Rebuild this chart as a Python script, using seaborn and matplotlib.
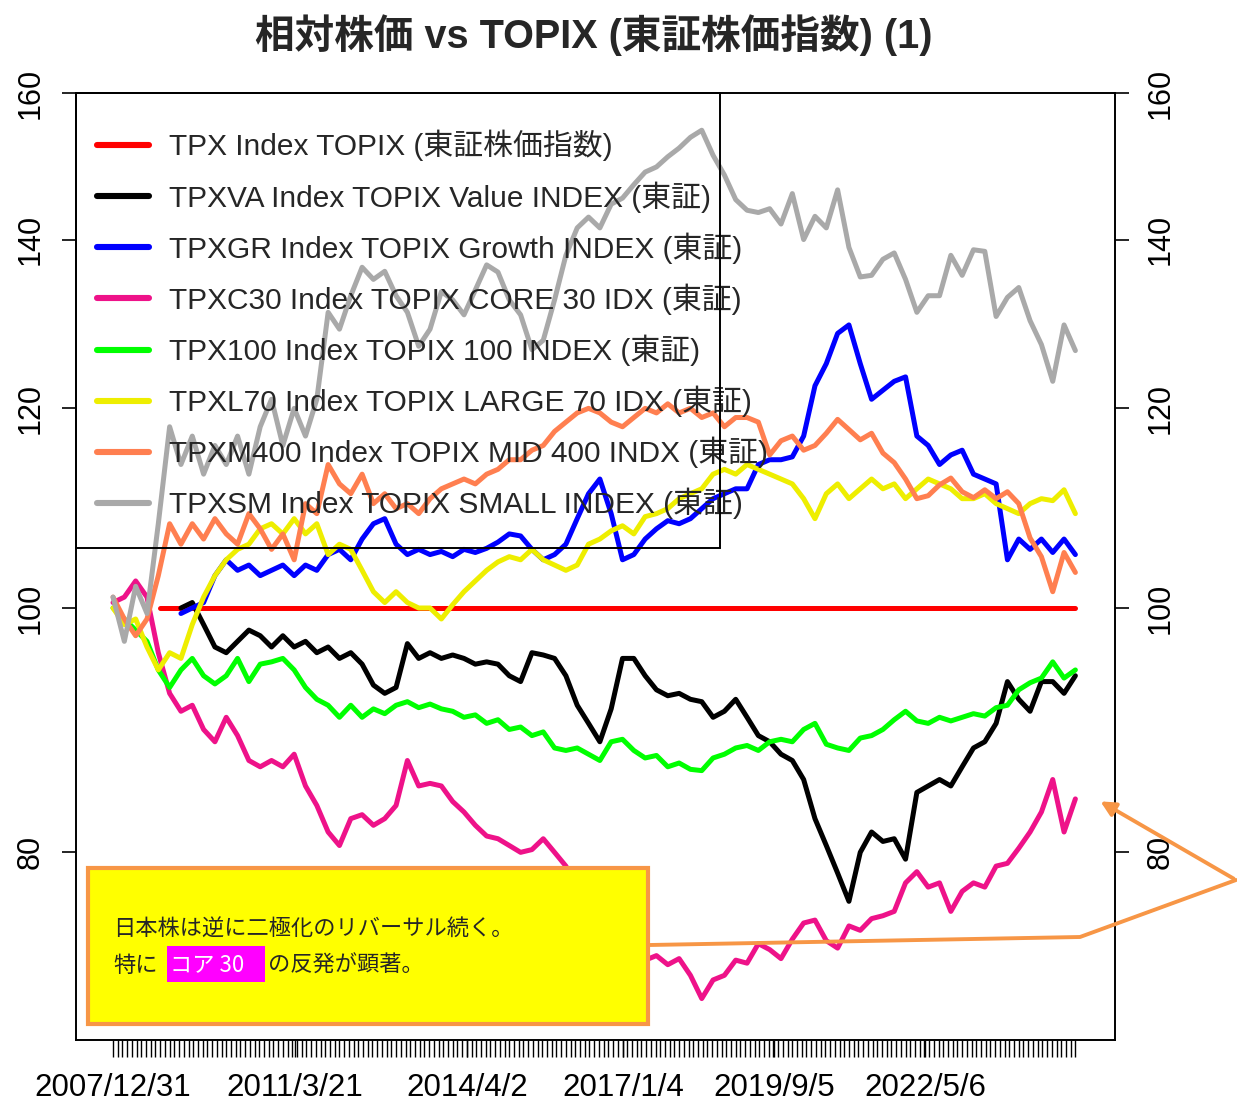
import numpy as np
import pandas as pd
import matplotlib
matplotlib.use('Agg')
import matplotlib.pyplot as plt
import seaborn as sns
from matplotlib.patches import Rectangle, FancyArrowPatch
from matplotlib.lines import Line2D
from matplotlib.ticker import FixedLocator, NullLocator

# ---------------- data (relative price vs TOPIX) ----------------
years = np.round(2008.0 + 0.2 * np.arange(86), 1)   # sampling dates (decimal years)

tpx_dates = [2008.83, 2025.0]
tpx = [100, 100]

tpxva = [100, 100.5, 98.5, 96.5, 96, 97, 98, 97.5, 96.5, 97.5,
         96.5, 97, 96, 96.5, 95.5, 96, 95, 93.2, 92.5, 93,
         96.8, 95.5, 96, 95.5, 95.8, 95.5, 95, 95.2, 95, 94,
         93.5, 96, 95.8, 95.5, 94, 91.5, 90, 88.5, 91.2, 95.5,
         95.5, 94, 92.8, 92.3, 92.5, 92, 91.8, 90.5, 91, 92,
         90.5, 89, 88.5, 87.5, 87, 85.5, 82.5, 80.5, 78.5, 76.5,
         80, 81.5, 80.8, 81, 79.5, 84.5, 85, 85.5, 85, 86.5,
         88, 88.5, 90, 93.5, 92, 91, 93.5, 93.5, 92.5, 94]

tpxgr = [99.5, 100, 100.5, 103, 104.5, 103.5, 104, 103, 103.5, 104,
         103, 104, 103.5, 105, 105.5, 104.5, 106.5, 108, 108.5, 106,
         105, 105.5, 105, 105.3, 104.8, 105.5, 105.2, 105.6, 106.2, 107,
         106.8, 105.5, 104.5, 105, 106, 108.5, 111, 112.5, 109, 104.5,
         105, 106.5, 107.5, 108.3, 108, 108.5, 109.5, 110.5, 111, 111.5,
         111.5, 114, 114.5, 114.5, 114.8, 117, 122.5, 125, 128.5, 129.5,
         125, 121, 122, 123, 123.5, 117, 116, 114, 115, 115.5,
         113, 112.5, 112, 104.5, 106.5, 105.5, 106.5, 105.2, 106.5, 105]

tpxc30 = [100.5, 101, 102.5, 101, 96, 92.5, 91, 91.5, 89.5, 88.5,
          90.5, 89, 87, 86.5, 87, 86.5, 87.5, 85, 83.5, 81.5,
          80.5, 82.5, 82.8, 82, 82.5, 83.5, 87, 85, 85.2, 85,
          83.8, 83, 82, 81.2, 81, 80.5, 80, 80.2, 81, 80,
          79, 77.5, 76.5, 75.5, 74.5, 73.8, 73, 72.5, 72.8, 72.2,
          72.6, 71.5, 70, 71.2, 71.5, 72.5, 72.3, 73.6, 73.2, 72.6,
          73.9, 75, 75.2, 73.8, 73.3, 74.8, 74.5, 75.3, 75.5, 75.8,
          77.8, 78.6, 77.5, 77.8, 75.8, 77.2, 77.8, 77.5, 79, 79.2,
          80.3, 81.5, 83, 85.5, 81.5, 84]

tpx100 = [100, 99, 98, 97, 94.5, 93, 94.5, 95.5, 94, 93.3,
          94, 95.5, 93.5, 95, 95.2, 95.5, 94.5, 93, 92, 91.5,
          90.5, 91.5, 90.5, 91.2, 90.8, 91.5, 91.8, 91.3, 91.6, 91.2,
          91, 90.5, 90.7, 90, 90.3, 89.5, 89.7, 89, 89.3, 88,
          87.8, 88, 87.5, 87, 88.5, 88.7, 87.8, 87.2, 87.4, 86.5,
          86.8, 86.3, 86.2, 87.2, 87.5, 88, 88.2, 87.8, 88.5, 88.7,
          88.5, 89.5, 90, 88.3, 88, 87.8, 88.8, 89, 89.5, 90.3,
          91, 90.2, 90, 90.5, 90.2, 90.5, 90.8, 90.6, 91.3, 91.5,
          92.8, 93.4, 93.8, 95.2, 93.8, 94.5]

tpxl70 = [100, 98.5, 99, 96.5, 94.5, 96, 95.5, 98.5, 101, 103,
          104.5, 105.5, 106, 107.5, 108, 107, 108.5, 107, 108, 105,
          106, 105.5, 103.5, 101.5, 100.5, 101.5, 100.5, 100, 100, 99,
          100.3, 101.5, 102.5, 103.5, 104.3, 104.8, 104.5, 105.5, 104.5, 104,
          103.5, 104, 106, 106.5, 107.3, 107.8, 107, 108.7, 109, 109.5,
          110.5, 111, 111.5, 113, 113.5, 113, 114, 113.5, 113, 112.5,
          112, 110.5, 108.5, 111, 112, 110.5, 111.5, 112.5, 111.5, 112,
          110.5, 111.5, 112.5, 112, 111.5, 110.5, 110.5, 111, 110, 109.5,
          109, 110, 110.5, 110.3, 111.4, 109]

tpxm400 = [101, 99, 97.5, 99, 103, 108, 106, 108, 106.5, 108.5,
           107, 106, 109, 107.5, 105.5, 107, 104.5, 110, 109, 114,
           112, 111, 113, 110, 111, 109.5, 110, 109, 110.5, 111.5,
           112, 112.5, 112, 113, 113.5, 114.5, 114.5, 115.5, 116, 117.5,
           118.5, 119.5, 120, 119.5, 118.5, 118, 119, 120, 119.5, 120.5,
           119.5, 120, 119, 119.5, 118, 119, 119, 118.5, 115, 116.5,
           117, 115.5, 116, 117.3, 118.8, 117.7, 116.6, 117.3, 115.2, 114.2,
           112.5, 110.5, 110.8, 111.9, 112.6, 111.2, 110.6, 111.4, 110.5, 111.2,
           110, 106.6, 104.8, 101.5, 105.2, 103.3]

tpxsm = [101, 97, 102, 99.5, 108, 118, 114, 117, 113, 116,
         114, 117, 113, 118, 121, 116, 120, 117, 121, 131,
         129, 133, 136.5, 135, 136, 133, 131, 127, 129, 133.5,
         132.5, 130.7, 133.7, 136.8, 135.9, 132.5, 130.7, 126.6, 127.7, 132.5,
         138, 141.5, 142.9, 141.5, 144.6, 145.4, 147.2, 148.9, 149.6, 151,
         152.2, 153.7, 154.7, 151.2, 148.5, 145.2, 143.8, 143.5, 144, 142,
         146, 140, 143, 141.5, 146.5, 139, 135.3, 135.5, 137.5, 138.3,
         135, 131, 133, 133, 138, 135.5, 138.7, 138.5, 130.5, 132.8,
         134, 130, 127.2, 123, 129.5, 126.5]

labels = ["TPX Index TOPIX (東証株価指数)",
          "TPXVA Index TOPIX Value INDEX (東証)",
          "TPXGR Index TOPIX Growth INDEX (東証)",
          "TPXC30 Index TOPIX CORE 30 IDX (東証)",
          "TPX100 Index TOPIX 100 INDEX (東証)",
          "TPXL70 Index TOPIX LARGE 70 IDX (東証)",
          "TPXM400 Index TOPIX MID 400 INDX (東証)",
          "TPXSM Index TOPIX SMALL INDEX (東証)"]
colors = ["#FF0000", "#000000", "#0000FF", "#EE1289",
          "#00FF00", "#EEEE00", "#FF7F50", "#A9A9A9"]

xtick_pos = [2008.0, 2011.216, 2014.249, 2017.01, 2019.677, 2022.342]
xtick_lab = ["2007/12/31", "2011/3/21", "2014/4/2", "2017/1/4", "2019/9/5", "2022/5/6"]
ytick_vals = [80, 100, 120, 140, 160]

title = "相対株価 vs TOPIX (東証株価指数) (1)"
note1 = "日本株は逆に二極化のリバーサル続く。"
note2a, note2b, note2c = "特に", "コア 30", "の反発が顕著。"

# ---------------- build long table ----------------
frames = [pd.DataFrame({"date": tpx_dates, "value": tpx, "series": labels[0]})]
for name, vals in zip(labels[1:], [tpxva, tpxgr, tpxc30, tpx100, tpxl70, tpxm400, tpxsm]):
    x = years[len(years) - len(vals):]
    frames.append(pd.DataFrame({"date": x, "value": vals, "series": name}))
df = pd.concat(frames, ignore_index=True)

# ---------------- figure ----------------
sns.set_style("ticks")
plt.rcParams['font.family'] = ['Liberation Sans', 'Noto Sans CJK JP', 'DejaVu Sans']

W, H = 1237, 1101
fig = plt.figure(figsize=(W / 100, H / 100), dpi=100)
ax = fig.add_axes([76 / W, 1 - 1040 / H, (1115 - 76) / W, (1040 - 93) / H])

sns.lineplot(data=df, x="date", y="value", hue="series", hue_order=labels,
             palette=colors, estimator=None, sort=False, linewidth=3.6, ax=ax)

ax.set_yscale("log")
ax.set_ylim(67.4, 160.05)
ax.set_xlim(2007.346, 2025.70)
ax.set_xlabel("")
ax.set_ylabel("")

ax.set_yticks(ytick_vals)
ax.set_yticklabels([str(v) for v in ytick_vals])
ax.yaxis.set_minor_locator(NullLocator())
ax.tick_params(axis="y", which="major", direction="out", length=10, width=1.2,
               labelsize=22, pad=12, left=True, right=True,
               labelleft=True, labelright=True, labelrotation=90, colors="black")
for t in ax.yaxis.get_major_ticks():
    t.label1.set_va("center")
    t.label2.set_va("center")

ax.set_xticks(xtick_pos)
ax.set_xticklabels(xtick_lab)
ax.xaxis.set_minor_locator(FixedLocator(np.arange(2008.0, 2025.05, 1 / 12)))
ax.tick_params(axis="x", which="both", direction="out", length=12, width=1.0,
               labelsize=22.5, pad=12, colors="black")

for s in ax.spines.values():
    s.set_visible(True)
    s.set_linewidth(1.4)
    s.set_color("black")

# legend
handles, labs = ax.get_legend_handles_labels()
leg = ax.legend(handles, labs, loc="upper left",
                bbox_to_anchor=((97 - 76) / 1039, (1040 - 130) / 947),
                frameon=False, borderpad=0, borderaxespad=0,
                handlelength=1.75, handletextpad=0.66, labelspacing=0.66,
                prop={"family": ['Liberation Sans', 'Noto Sans CJK JP'], "size": 21.5})
for h in leg.legend_handles:
    h.set_linewidth(4.4)
ax.add_patch(Rectangle((0, (1040 - 548) / 947), (720 - 76) / 1039, (548 - 93) / 947,
                       transform=ax.transAxes, fill=False, edgecolor="black",
                       linewidth=1.4, zorder=6, clip_on=False))

# title
fig.text(594 / W, 1 - 35 / H, title, ha="center", va="center",
         fontsize=28.5, fontweight="bold")

# annotation box
fig.add_artist(Rectangle((88 / W, 1 - 1024 / H), 560 / W, 156 / H,
                         transform=fig.transFigure, facecolor="#FFFF00",
                         edgecolor="#F79646", linewidth=3))
fig.add_artist(Rectangle((167 / W, 1 - 982 / H), 98 / W, 36 / H,
                         transform=fig.transFigure, facecolor="#FF00FF",
                         edgecolor="none"))
jp = ['Noto Sans CJK JP', 'DejaVu Sans']
fs = 16
fig.text(113 / W, 1 - 928 / H, note1, ha="left", va="center", fontsize=fs, family=jp)
fig.text(113 / W, 1 - 965 / H, note2a, ha="left", va="center", fontsize=fs, family=jp)
fig.text(170 / W, 1 - 965 / H, note2b, ha="left", va="center", fontsize=fs,
         family=jp, color="white")
fig.text(268 / W, 1 - 965 / H, note2c, ha="left", va="center", fontsize=fs, family=jp)

# callout
fig.add_artist(Line2D([650 / W, 1080 / W, 1236 / W], [1 - 945 / H, 1 - 937 / H, 1 - 880 / H],
                      transform=fig.transFigure, color="#F79646", linewidth=2.8))
fig.add_artist(FancyArrowPatch(posA=(1236 / W, 1 - 880 / H), posB=(1098 / W, 1 - 800 / H),
                               transform=fig.transFigure, arrowstyle="-|>",
                               mutation_scale=22, color="#F79646", linewidth=2.8))

fig.savefig("out.png", dpi=100)
